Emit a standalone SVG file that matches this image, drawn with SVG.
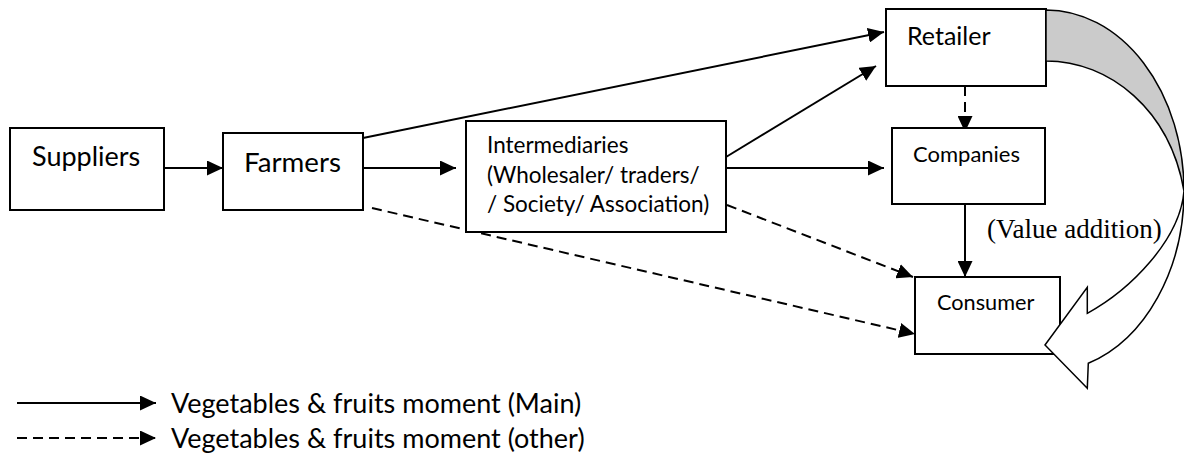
<svg xmlns="http://www.w3.org/2000/svg" width="1184" height="459" viewBox="0 0 1184 459">
<style>
.box{fill:#fff;stroke:#000;stroke-width:2}
.t{font-family:Lato,"Open Sans","Liberation Sans",sans-serif;fill:#000}
.s{stroke:#000;stroke-width:2;fill:none}
.d{stroke:#000;stroke-width:2;fill:none;stroke-dasharray:10 6}
.serif{font-family:"Liberation Serif","Times New Roman",serif;fill:#000}
</style>
<defs>
<marker id="ah" markerUnits="userSpaceOnUse" markerWidth="17" markerHeight="15" refX="16" refY="7.5" orient="auto" viewBox="0 0 17 15">
<path d="M0,0 L16,7.5 L0,15 Z" fill="#000"/>
</marker>
</defs>
<g id="connectors">
<line class="s" x1="164" y1="168" x2="223" y2="168" marker-end="url(#ah)"/>
<line class="s" x1="363" y1="168" x2="456" y2="168" marker-end="url(#ah)"/>
<line class="s" x1="363" y1="138" x2="884" y2="32" marker-end="url(#ah)"/>
<line class="s" x1="726" y1="157" x2="876" y2="66" marker-end="url(#ah)"/>
<line class="s" x1="726" y1="168" x2="884" y2="168" marker-end="url(#ah)"/>
<line class="d" x1="965" y1="86" x2="965" y2="132" marker-end="url(#ah)"/>
<line class="s" x1="965" y1="204" x2="965" y2="277" marker-end="url(#ah)"/>
<line class="d" x1="727" y1="205" x2="913" y2="277" marker-end="url(#ah)"/>
<line class="d" x1="372" y1="208" x2="915" y2="334" marker-end="url(#ah)"/>
</g>
<g id="suppliers">
<rect class="box" x="10" y="128" width="154" height="82"/>
<text class="t" x="32" y="166" font-size="27">Suppliers</text>
</g>
<g id="farmers">
<rect class="box" x="223" y="133" width="140" height="77"/>
<text class="t" x="244" y="172" font-size="27.7">Farmers</text>
</g>
<g id="intermediaries">
<rect class="box" x="466" y="121" width="260" height="111"/>
<text class="t" font-size="22.5"><tspan x="487" y="153">Intermediaries</tspan><tspan x="487" y="183">(Wholesaler/ traders/</tspan><tspan x="487" y="212">/ Society/ Association)</tspan></text>
</g>
<g id="retailer">
<rect class="box" x="886" y="9" width="160" height="77"/>
<text class="t" x="907" y="45" font-size="25">Retailer</text>
</g>
<g id="companies">
<rect class="box" x="892" y="128" width="153" height="76"/>
<text class="t" x="913" y="162" font-size="22">Companies</text>
</g>
<g id="consumer">
<rect class="box" x="915" y="277" width="145" height="77"/>
<text class="t" x="937" y="310" font-size="21.7">Consumer</text>
</g>
<g id="value-addition-arrow">
<path d="M1046,10 A138,181 0 0 1 1184,191 C1170,110 1110,61 1046,61 Z" fill="#cbcbcb" stroke="#000" stroke-width="1.5"/>
<path d="M1184,191 A138,181 0 0 1 1088.3,363.3 L1087.3,388.3 L1045,345 L1087.3,287.3 L1087.3,313.3 C1130,290 1180,240 1184,191 Z" fill="#fff" stroke="#000" stroke-width="1.5" stroke-linejoin="miter"/>
</g>
<text class="serif" x="987" y="238" font-size="27">(Value addition)</text>
<g id="legend">
<line class="s" x1="17" y1="403" x2="156" y2="403" marker-end="url(#ah)"/>
<text class="t" x="171" y="413" font-size="27">Vegetables &amp; fruits moment (Main)</text>
<line class="d" x1="17" y1="438" x2="156" y2="438" marker-end="url(#ah)"/>
<text class="t" x="171" y="448" font-size="27">Vegetables &amp; fruits moment (other)</text>
</g>
</svg>
